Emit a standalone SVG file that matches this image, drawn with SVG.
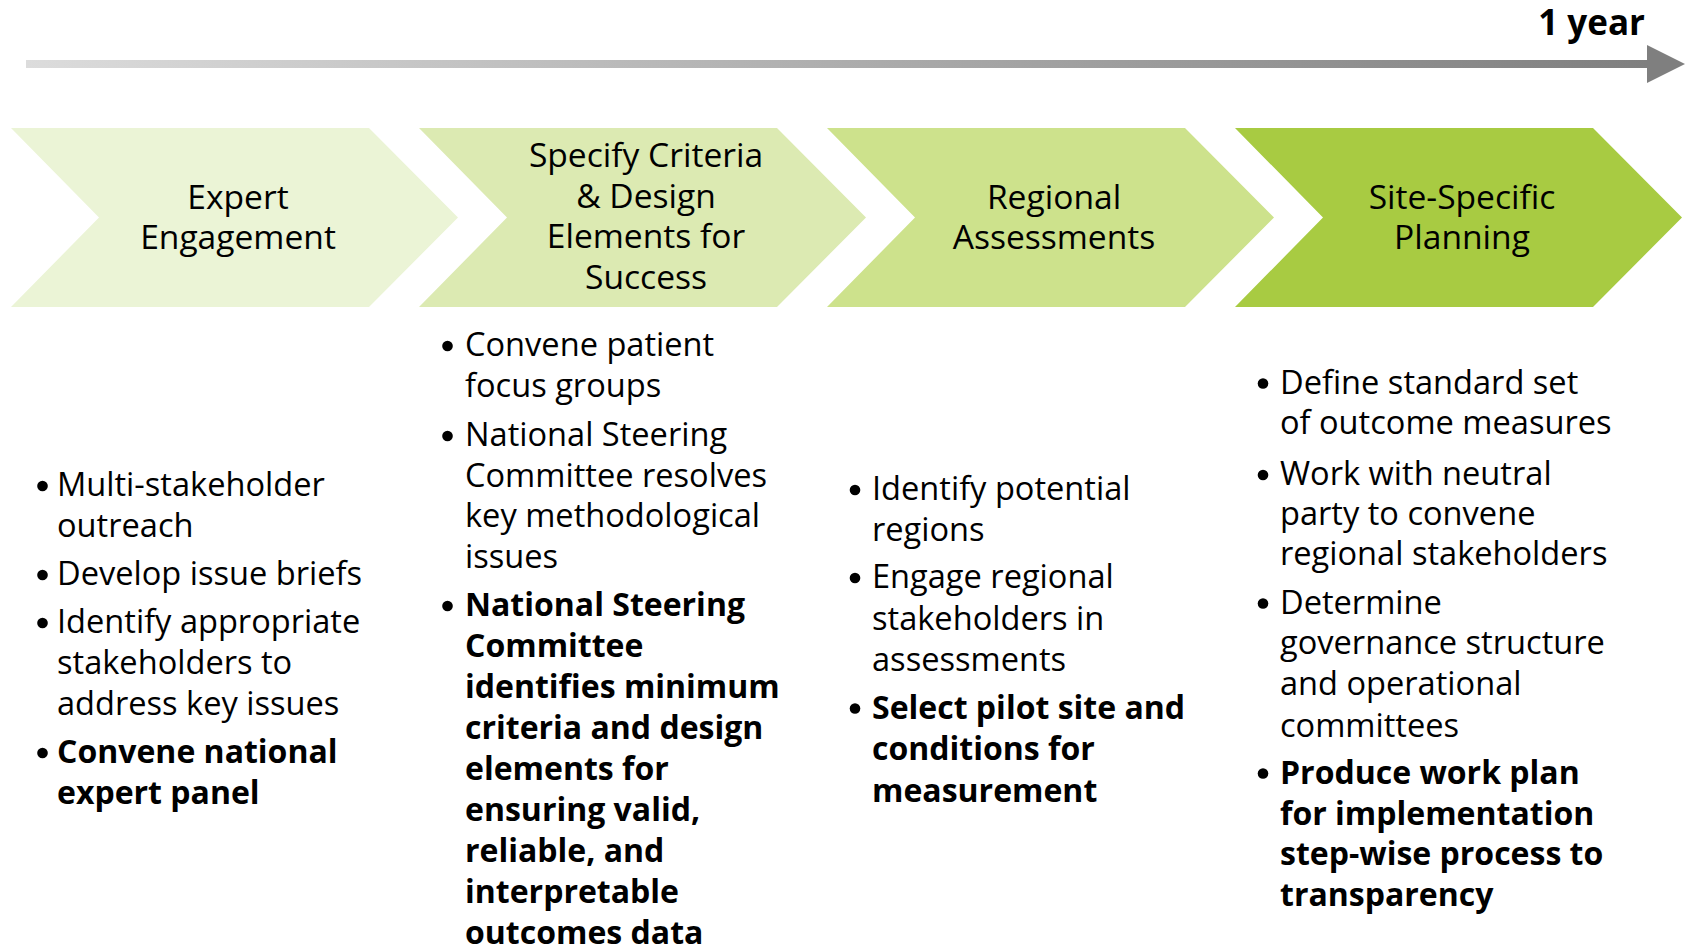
<svg xmlns="http://www.w3.org/2000/svg" width="1685" height="947" viewBox="0 0 1685 947">
<style>
.hd{font-family:"Open Sans","Noto Sans",sans-serif;font-size:33.6px;fill:#000;text-anchor:middle}
.tx{font-family:"Open Sans","Noto Sans",sans-serif;font-size:32.6px;fill:#000}
.b{font-weight:bold;font-size:32px}
.yr{font-family:"Open Sans","Noto Sans",sans-serif;font-size:35px;font-weight:bold;fill:#000;text-anchor:end}
.dot{fill:#000}
</style>
<defs>
<linearGradient id="tl" x1="0" y1="0" x2="1" y2="0">
<stop offset="0" stop-color="#DCDCDC"/>
<stop offset="1" stop-color="#7F7F7F"/>
</linearGradient>
</defs>
<rect width="1685" height="947" fill="#fff"/>
<g id="timeline">
<rect x="26" y="60" width="1622" height="8" fill="url(#tl)"/>
<polygon points="1647,45 1685,64 1647,83" fill="#7F7F7F"/>
<text class="yr" x="1645" y="35">1 year</text>
</g>
<g id="expert-engagement">
<polygon points="11,128 369,128 458,217.5 369,307 11,307 99,217.5" fill="#EBF4D6"/>
<text class="hd"><tspan x="238" y="208.5">Expert</tspan><tspan x="238" y="248.5">Engagement</tspan></text>
<circle class="dot" cx="42.5" cy="486" r="5.3"/>
<circle class="dot" cx="42.5" cy="575" r="5.3"/>
<circle class="dot" cx="42.5" cy="623" r="5.3"/>
<circle class="dot" cx="42.5" cy="753" r="5.3"/>
<text class="tx"><tspan x="57" y="496">Multi-stakeholder</tspan><tspan x="57" y="537">outreach</tspan><tspan x="57" y="585">Develop issue briefs</tspan><tspan x="57" y="633">Identify appropriate</tspan><tspan x="57" y="674">stakeholders to</tspan><tspan x="57" y="715">address key issues</tspan></text>
<text class="tx b"><tspan x="57" y="763">Convene national</tspan><tspan x="57" y="804">expert panel</tspan></text>
</g>
<g id="specify-criteria">
<polygon points="419,128 777,128 866,217.5 777,307 419,307 507,217.5" fill="#DCEAB2"/>
<text class="hd"><tspan x="646" y="167">Specify Criteria</tspan><tspan x="646" y="207.5">&amp; Design</tspan><tspan x="646" y="248">Elements for</tspan><tspan x="646" y="288.5">Success</tspan></text>
<circle class="dot" cx="447.5" cy="346" r="5.3"/>
<circle class="dot" cx="447.5" cy="436" r="5.3"/>
<circle class="dot" cx="447.5" cy="606" r="5.3"/>
<text class="tx"><tspan x="465" y="356">Convene patient</tspan><tspan x="465" y="396.5">focus groups</tspan><tspan x="465" y="446">National Steering</tspan><tspan x="465" y="487">Committee resolves</tspan><tspan x="465" y="527">key methodological</tspan><tspan x="465" y="568">issues</tspan></text>
<text class="tx b"><tspan x="465" y="616">National Steering</tspan><tspan x="465" y="657">Committee</tspan><tspan x="465" y="698">identifies minimum</tspan><tspan x="465" y="739">criteria and design</tspan><tspan x="465" y="780">elements for</tspan><tspan x="465" y="821">ensuring valid,</tspan><tspan x="465" y="862">reliable, and</tspan><tspan x="465" y="903">interpretable</tspan><tspan x="465" y="944">outcomes data</tspan></text>
</g>
<g id="regional-assessments">
<polygon points="827,128 1185,128 1274,217.5 1185,307 827,307 915,217.5" fill="#CDE28C"/>
<text class="hd"><tspan x="1054" y="208.5">Regional</tspan><tspan x="1054" y="248.5">Assessments</tspan></text>
<circle class="dot" cx="855" cy="490" r="5.3"/>
<circle class="dot" cx="855" cy="578" r="5.3"/>
<circle class="dot" cx="855" cy="708.5" r="5.3"/>
<text class="tx"><tspan x="872" y="500">Identify potential</tspan><tspan x="872" y="540.5">regions</tspan><tspan x="872" y="588">Engage regional</tspan><tspan x="872" y="630">stakeholders in</tspan><tspan x="872" y="671">assessments</tspan></text>
<text class="tx b"><tspan x="872" y="718.5">Select pilot site and</tspan><tspan x="872" y="760">conditions for</tspan><tspan x="872" y="801.5">measurement</tspan></text>
</g>
<g id="site-specific-planning">
<polygon points="1235,128 1593,128 1682,217.5 1593,307 1235,307 1323,217.5" fill="#A8CB42"/>
<text class="hd"><tspan x="1462" y="208.5">Site-Specific</tspan><tspan x="1462" y="248.5">Planning</tspan></text>
<circle class="dot" cx="1263" cy="383.5" r="5.3"/>
<circle class="dot" cx="1263" cy="475" r="5.3"/>
<circle class="dot" cx="1263" cy="603.5" r="5.3"/>
<circle class="dot" cx="1263" cy="773.5" r="5.3"/>
<text class="tx"><tspan x="1280" y="393.5">Define standard set</tspan><tspan x="1280" y="434">of outcome measures</tspan><tspan x="1280" y="485">Work with neutral</tspan><tspan x="1280" y="525">party to convene</tspan><tspan x="1280" y="565">regional stakeholders</tspan><tspan x="1280" y="613.5">Determine</tspan><tspan x="1280" y="654">governance structure</tspan><tspan x="1280" y="695">and operational</tspan><tspan x="1280" y="736.5">committees</tspan></text>
<text class="tx b"><tspan x="1280" y="783.5">Produce work plan</tspan><tspan x="1280" y="825">for implementation</tspan><tspan x="1280" y="865">step-wise process to</tspan><tspan x="1280" y="905.5">transparency</tspan></text>
</g>
</svg>
